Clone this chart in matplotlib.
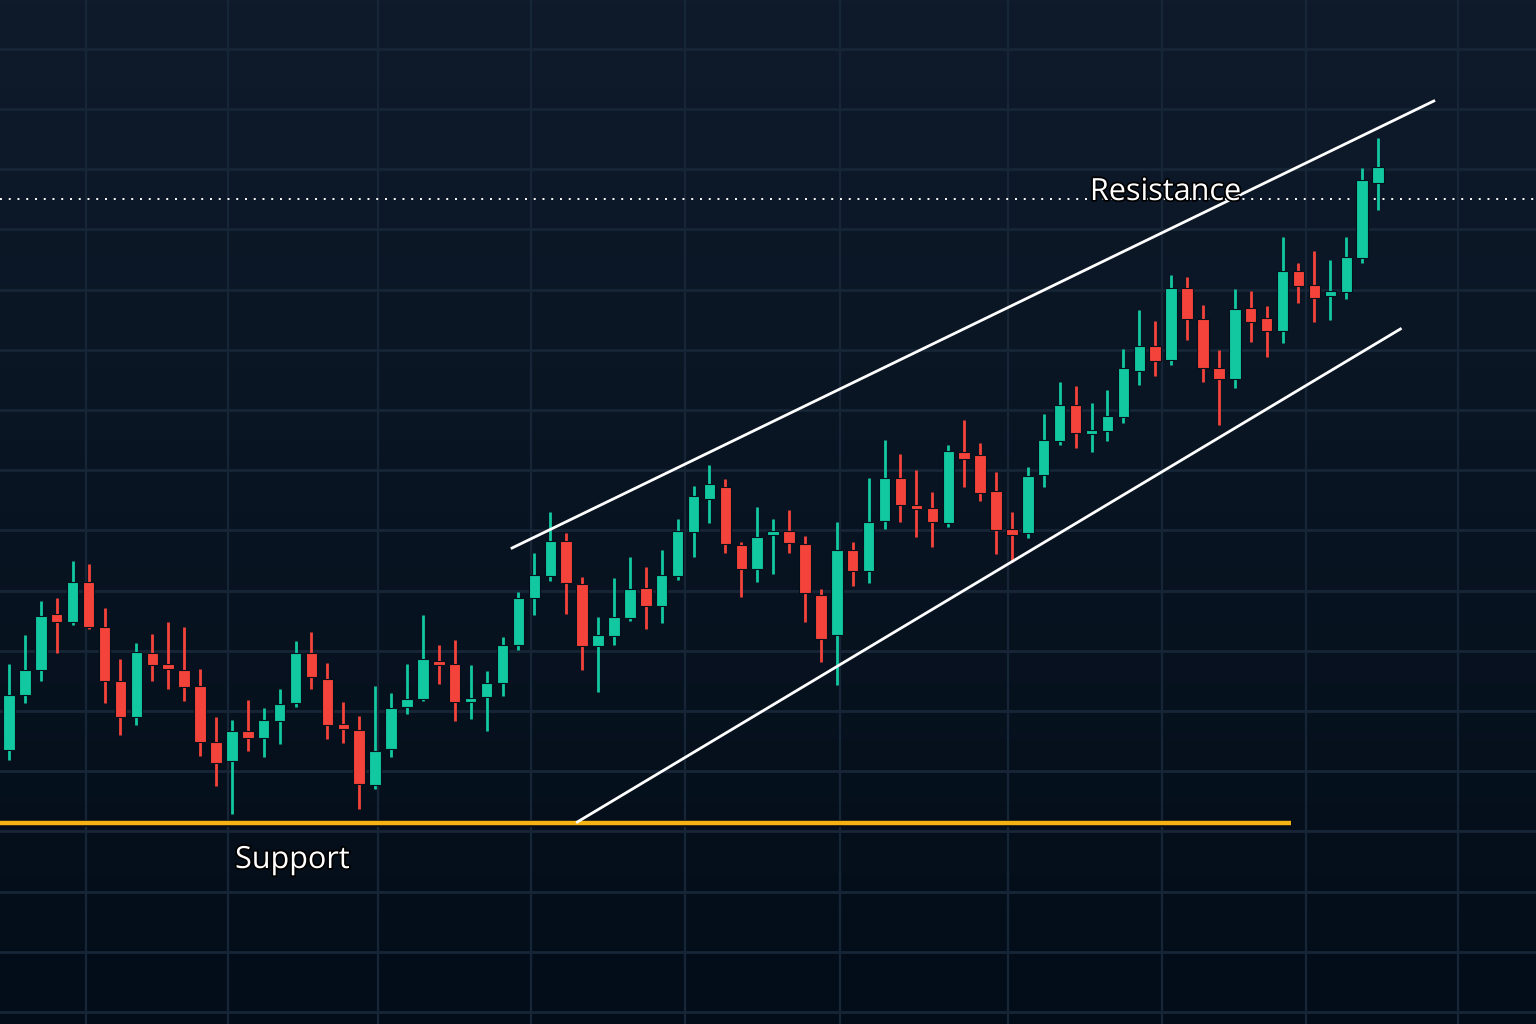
import numpy as np
import matplotlib
matplotlib.use("Agg")
import matplotlib.pyplot as plt
import matplotlib.patheffects as pe

# OHLC, one entry per candle (price units)
opens = [274, 329, 354, 410, 402, 442, 397, 343, 307, 371, 360, 354, 338, 282, 263,
         293, 286, 303, 321, 371, 345, 300, 294, 239, 275, 317, 325, 363, 360, 322,
         327, 341, 379, 426, 448, 483, 440, 378, 388, 406, 436, 418, 448, 492, 525,
         537, 479, 455, 489, 493, 480, 429, 389, 474, 453, 503, 546, 519, 516, 501,
         572, 569, 533, 495, 491, 549, 583, 619, 590, 593, 607, 653, 678, 664, 736,
         705, 656, 645, 716, 706, 693, 753, 739, 728, 732, 766, 841]
highs = [360, 389, 423, 426, 463, 460, 416, 365, 381, 390, 402, 397, 355, 307, 304,
         324, 316, 335, 383, 392, 361, 322, 308, 338, 331, 360, 409, 379, 384, 359,
         353, 387, 432, 471, 512, 491, 447, 407, 446, 467, 457, 474, 505, 538, 559,
         545, 482, 517, 505, 514, 488, 435, 502, 482, 546, 584, 570, 554, 532, 579,
         604, 581, 552, 512, 557, 610, 642, 638, 621, 634, 675, 714, 703, 749, 747,
         719, 674, 735, 733, 718, 787, 761, 773, 764, 787, 856, 886]
lows = [264, 321, 343, 371, 399, 395, 321, 289, 299, 343, 335, 323, 268, 238, 210,
        273, 267, 280, 317, 335, 285, 281, 215, 235, 267, 310, 323, 340, 303, 305,
        293, 328, 374, 409, 443, 410, 354, 332, 379, 403, 395, 401, 444, 467, 501,
        471, 427, 442, 450, 471, 402, 362, 339, 438, 441, 495, 502, 487, 477, 497,
        537, 523, 470, 462, 486, 537, 579, 576, 572, 583, 601, 639, 648, 659, 684,
        642, 599, 636, 682, 667, 681, 721, 702, 704, 725, 761, 814]
closes = [329, 354, 408, 402, 442, 397, 343, 307, 372, 359, 355, 337, 282, 261, 293,
          286, 304, 320, 371, 347, 299, 295, 240, 273, 316, 325, 365, 359, 322, 326,
          341, 379, 426, 449, 483, 441, 378, 389, 407, 435, 418, 449, 493, 528, 540,
          480, 455, 487, 493, 481, 431, 385, 474, 453, 502, 546, 519, 515, 502, 573,
          565, 531, 494, 489, 548, 584, 619, 591, 593, 608, 656, 678, 663, 736, 705,
          656, 645, 715, 702, 693, 753, 738, 726, 733, 767, 844, 857]

# drawn levels and trend channel (candle index, price)
support_level = 201
support_span = [-0.6, 80.5]
resistance_level = 825
upper_trend_x = [31.6, 89.5]
upper_trend_y = [476, 923]
lower_trend_x = [35.7, 87.4]
lower_trend_y = [202, 695]

GREEN = "#12c8a0"
RED = "#f4433a"

fig = plt.figure(figsize=(15.36, 10.24), dpi=100)
ax = fig.add_axes([0, 0, 1, 1])
x0, x1 = -0.565, 95.92
ax.set_xlim(x0, x1)
ax.set_ylim(0, 1024)
ax.axis("off")

# background gradient, lighter navy at the top
top = np.array([0x0f, 0x1b, 0x2b]) / 255
bot = np.array([0x03, 0x0d, 0x19]) / 255
t = np.linspace(0, 1, 256)[:, None]
grad = (top * (1 - t) + bot * t)[:, None, :]
ax.imshow(grad, extent=[x0, x1, 0, 1024], aspect="auto", zorder=0)

# grid
for gx in [4.84, 13.76, 23.18, 32.79, 42.46, 52.2, 62.75, 72.4, 81.5, 91.0]:
    ax.axvline(gx, color="#172637", lw=1.6, zorder=1)
for gy in np.arange(12, 1024, 60.2):
    ax.axhline(gy, color="#172637", lw=2.0, zorder=1)

# candles
idx = np.arange(len(opens))
o = np.array(opens); h = np.array(highs); l = np.array(lows); c = np.array(closes)
colors = np.where(c >= o, GREEN, RED)
ax.vlines(idx, l, h, colors=colors, lw=2.0, zorder=3)
body_bot = np.minimum(o, c)
body_h = np.maximum(np.abs(c - o), 4)
ax.bar(idx, body_h, bottom=body_bot, width=0.72, color=colors,
       edgecolor="#06101a", linewidth=0.8, zorder=4)

# support / resistance / channel
ax.plot(support_span, [support_level] * 2, color="#f6b414", lw=3.2,
        solid_capstyle="butt", zorder=5,
        path_effects=[pe.Stroke(linewidth=5, foreground="#050a12"), pe.Normal()])
ax.axhline(resistance_level, color="white", lw=1.4, ls=(0, (1, 3.5)), zorder=2)
ax.plot(upper_trend_x, upper_trend_y, color="white", lw=2.0, zorder=5)
ax.plot(lower_trend_x, lower_trend_y, color="white", lw=2.0, zorder=5)

outline = [pe.withStroke(linewidth=2.5, foreground="#000000")]
ax.text(67.9, 824, "Resistance", color="white", fontsize=22, family="Open Sans",
        va="baseline", ha="left", zorder=6, path_effects=outline)
ax.text(14.2, 156, "Support", color="white", fontsize=22, family="Open Sans",
        va="baseline", ha="left", zorder=6, path_effects=outline)

fig.savefig("out.png", dpi=100)
